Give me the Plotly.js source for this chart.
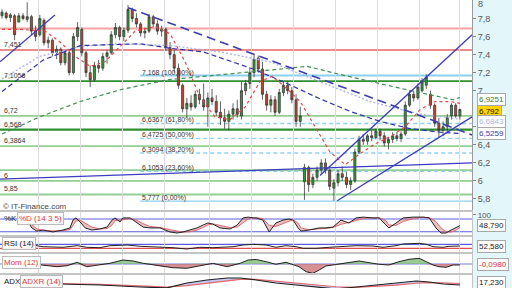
<!DOCTYPE html>
<html><head><meta charset="utf-8">
<script src="https://cdn.plot.ly/plotly-3.0.1.min.js"></script>
<style>html,body{margin:0;padding:0;background:#fff}#chart{width:512px;height:288px}</style>
</head><body><div id="chart"></div>
<script>
// ---- price candles (one per session) ----
const open  = [7.83,7.86,7.81,7.83,7.76,7.83,7.79,7.82,7.66,7.62,7.78,7.53,7.56,7.42,7.46,7.31,7.42,7.20,7.60,7.68,7.42,7.20,7.12,7.28,7.25,7.38,7.42,7.62,7.70,7.60,7.67,7.90,7.80,7.74,7.64,7.66,7.82,7.74,7.66,7.68,7.48,7.40,7.25,7.06,6.80,6.86,6.82,6.96,6.90,6.82,6.92,6.88,6.76,6.70,6.66,6.74,6.80,6.72,7.00,7.08,7.20,7.36,7.24,6.96,6.84,6.90,6.76,6.98,7.06,7.00,6.90,6.66,5.99,6.15,5.96,6.04,6.12,6.20,6.12,5.92,5.98,6.08,6.04,5.96,6.00,6.32,6.46,6.44,6.50,6.48,6.55,6.50,6.42,6.46,6.50,6.47,6.52,6.84,6.96,6.92,7.00,7.06,6.96,6.84,6.64,6.56,6.60,6.72,6.84,6.72];
const high  = [7.90,7.88,7.86,7.85,7.86,7.86,7.98,7.84,7.72,7.84,7.80,7.60,7.58,7.50,7.48,7.45,7.44,7.64,7.76,7.70,7.44,7.28,7.32,7.34,7.42,7.45,7.66,7.75,7.72,7.70,7.95,7.92,7.86,7.76,7.70,7.85,7.84,7.78,7.72,7.70,7.54,7.45,7.30,7.08,6.92,6.95,7.00,7.02,7.08,6.98,7.02,6.95,6.88,6.80,6.78,6.86,6.90,7.10,7.12,7.25,7.40,7.39,7.32,7.00,6.95,6.94,7.02,7.10,7.10,7.04,6.96,6.82,6.19,6.17,6.08,6.16,6.24,6.25,6.14,6.02,6.12,6.16,6.10,6.04,6.36,6.50,6.52,6.52,6.56,6.58,6.58,6.54,6.48,6.54,6.54,6.55,6.88,7.00,7.00,7.08,7.14,7.18,7.00,6.86,6.70,6.66,6.74,6.86,6.86,6.80];
const low   = [7.80,7.79,7.76,7.56,7.76,7.78,7.76,7.62,7.55,7.60,7.50,7.47,7.38,7.35,7.28,7.28,7.17,7.18,7.55,7.38,7.15,7.04,7.10,7.20,7.22,7.30,7.40,7.58,7.56,7.55,7.64,7.76,7.70,7.60,7.58,7.64,7.70,7.62,7.60,7.44,7.35,7.20,7.02,6.76,6.70,6.78,6.80,6.85,6.78,6.60,6.84,6.72,6.62,6.58,6.56,6.68,6.70,6.68,6.95,7.02,7.15,7.20,6.90,6.78,6.76,6.72,6.74,6.94,6.96,6.86,6.60,6.60,5.79,5.88,5.92,6.00,6.08,6.08,5.90,5.78,5.94,6.00,5.92,5.90,5.98,6.30,6.40,6.40,6.44,6.46,6.45,6.38,6.35,6.42,6.44,6.43,6.50,6.82,6.88,6.90,6.98,7.02,6.80,6.60,6.48,6.50,6.54,6.68,6.70,6.68];
const close = [7.87,7.81,7.84,7.62,7.83,7.80,7.82,7.66,7.60,7.80,7.53,7.56,7.42,7.46,7.31,7.42,7.20,7.60,7.70,7.42,7.20,7.12,7.28,7.25,7.38,7.42,7.62,7.70,7.60,7.67,7.90,7.80,7.74,7.64,7.66,7.82,7.74,7.66,7.68,7.48,7.40,7.25,7.06,6.80,6.86,6.82,6.96,6.90,6.82,6.92,6.88,6.76,6.70,6.66,6.74,6.80,6.74,7.00,7.08,7.20,7.35,7.24,6.96,6.84,6.90,6.76,6.98,7.06,7.00,6.90,6.66,6.72,6.15,5.96,6.04,6.12,6.20,6.12,5.94,5.98,6.08,6.04,5.96,6.00,6.32,6.46,6.44,6.50,6.48,6.55,6.50,6.42,6.46,6.50,6.47,6.52,6.84,6.96,6.92,7.04,7.10,7.15,6.84,6.64,6.56,6.60,6.70,6.84,6.72,6.792];

// ---- moving averages (session index, price) ----
const maRedX   = [0,4.3,10.2,13.8,17.4,21,24.5,28.1,31.7,36.4,40,43.6,47.1,50.7,54.3,57.9,61.4,64.3,67.4,71,74.5,78.1,81.7,85.2,88.8,92.4,96,99.5,103.1,106.7,109];
const maRedY   = [7.68,7.68,7.66,7.54,7.38,7.27,7.32,7.49,7.66,7.71,7.63,7.32,6.93,6.71,6.68,6.82,7.10,7.16,7.04,6.88,6.60,6.32,6.18,6.30,6.41,6.49,6.60,6.79,6.88,6.88,6.86];
const maNavyX  = [0,9.8,18.6,25.7,32.9,40,47.9,59.8,66.9,75.7,82.9,90,97.1,104.3,109];
const maNavyY  = [6.99,7.34,7.50,7.51,7.52,7.47,7.43,7.24,7.10,6.91,6.77,6.66,6.58,6.54,6.5259];
const maLightX = [0,9,18.6,28,40,51.9,63.8,75.7,87.6,99.5,109];
const maLightY = [7.13,7.38,7.49,7.52,7.50,7.43,7.32,7.10,6.88,6.74,6.6843];
const maGreenX = [0,9,18.6,28.1,39.3,56,66.2,72.6,80.5,96.4,107.4,109];
const maGreenY = [6.52,6.71,6.88,7.01,7.12,7.19,7.24,7.27,7.18,7.01,6.90,6.9251];

// ---- drawn trend lines: [startIndex, startPrice, endIndex, endPrice] ----
const trendSolid  = [[-0.48,7.32,12.6,7.84],[75.7,6.06,111.9,7.62],[79.8,5.78,111.9,6.71],[-0.48,6.02,111.9,6.20]];
const trendDashed = [[30,7.92,111.9,6.51]];

// ---- horizontal levels ----
const redLevels   = [7.69,7.451];
const redLabels   = ["","7,451"];
const greenLevels = [7.1056,6.72,6.568,6.3864,6.12,6.0,5.85];
const greenLabels = ["7,1056","6,72","6,568","6,3864","","6","5,85"];
const fibLevels   = [7.168,6.6367,6.4725,6.3094,6.1053,5.777];
const fibLabels   = ["7,168 (100,00%)","6,6367 (61,80%)","6,4725 (50,00%)","6,3094 (38,20%)","6,1053 (23,60%)","5,777 (0,00%)"];
const fibStart = 32.9;

// ---- price axis tick labels ----
const priceTicks = [5.8,6.0,6.2,6.4,6.6,7.0,7.2,7.4,7.6,7.8];
const priceTop = 8;

// ---- indicators ----
const stochX = [6.2,7.1,8.3,9.8,12.1,14.5,16.2,16.9,17.6,18.6,19.8,21.4,23.3,25,26.2,26.9,28.1,28.8,30.5,32.1,33.6,35.2,37.6,40,41.7,43.1,44.8,46.4,47.9,49,50.2,51.9,54.3,56,57.4,58.6,59.8,60.5,62.1,63.6,65.2,66.9,68.3,69.3,70.5,71.2,73.1,75.5,77.1,78.8,80.7,82.6,84.3,86,88.3,89.8,91.4,92.1,93.8,95.5,97.9,100.2,101.7,103.3,104.5,105.7,106.9,108.1,109];
const stochK = [66,38,23,28,19,28,38,75,85,66,38,28,33,42,75,85,66,85,85,61,42,38,38,19,14,19,28,38,52,61,56,38,33,52,85,89,85,85,75,19,61,75,80,75,38,23,28,38,38,42,75,61,85,89,85,85,52,38,61,85,89,89,85,38,14,14,28,42,48.79];
const stochD = [72,52,34,27,24,25,30,50,70,74,60,42,33,35,52,72,75,78,82,74,58,45,40,30,22,18,20,28,40,52,57,50,40,42,62,80,86,86,82,50,45,58,72,77,60,38,30,32,36,40,55,64,74,82,86,86,72,52,50,68,82,88,87,68,38,20,18,28,40];
const rsiX = [7.1,9.8,14.5,17.9,20.2,23.3,25.7,29.8,32.9,36.9,40.7,44,47.1,50.2,55,57.4,59.8,62.9,65.2,67.6,70,71.7,74.8,77.9,81.2,84.3,88.3,90.7,93.8,95.5,99.3,101,102.6,105,106.4,108.1,109];
const rsiV = [63,46,40,56,40,36,56,63,50,46,36,23,40,36,46,63,70,63,40,56,46,30,30,40,46,56,53,40,56,73,80,70,46,40,50,53,52.58];
const momX = [7.9,10.7,13.1,15.5,17.9,20.2,22.6,25.7,28.8,31.2,33.6,36,38.3,40.7,44,47.1,50.2,53.6,56.7,58.6,60.5,62.9,65.2,67.6,69.3,70.7,72.4,74,75.5,77.1,79.5,82.6,85,87.4,89.8,92.1,94.5,96.9,99.3,101,102.6,104,105.7,107.4,109];
const momV = [-0.03,-0.2,-0.27,-0.17,0.17,-0.27,-0.1,0.07,0.4,0.3,0.07,-0.1,-0.27,-0.37,-0.43,-0.17,0.07,-0.27,0.07,0.4,0.45,0.23,-0.03,0.17,-0.03,-0.27,-0.77,-0.93,-0.6,-0.2,-0.05,0.17,0.3,0.13,-0.03,-0.1,0.23,0.47,0.57,0.23,-0.1,-0.27,-0.33,-0.1,-0.098];
const adxX  = [13.8,23.3,32.9,39.3,44,48.8,53.6,56.7,60.5,65.2,70,74.8,79.5,84.3,89,93.8,98.6,101.7,105,109];
const adxV  = [19.1,17.2,13.5,11.9,20.9,26.5,30.2,30.2,26.5,20.9,17.2,13.5,10,13.5,17.2,20.9,24.6,22.8,19.1,17.23];
const adxrV = [20,18.5,15.5,13.5,16,20,25,27.5,27.5,24.5,21,17.5,14,13,14.5,17,20.5,21.5,21,20];

const gridDays = [8.6,18.6,28.6,38.6,49.5,59.5,69.3,79.3,89.3,99.3,108.8];

// ---------------------------------------------------------------
const day = close.map((_, i) => i);
const fmt = (v, d) => v.toFixed(d).replace('.', ',');
const XMIN = -0.476, XMAX = 111.9, XDOM = 0.922;

const traces = [];
const line = (x, y, color, dash, width, yaxis) => ({type:'scatter', mode:'lines', x, y, yaxis: yaxis||'y',
  line:{color, dash, width}, hoverinfo:'skip'});

traces.push(line(maGreenX, maGreenY, '#3f8f4f', '4px,3px', 1.2));
traces.push(line(maLightX, maLightY, '#a9b4ee', '2px,2px', 1.4));
traces.push(line(maNavyX, maNavyY, '#3434a8', '5px,3px', 1.2));
traces.push(line(maRedX, maRedY, '#e04848', '3px,3px', 1.2));

traces.push({type:'candlestick', x:day, open, high, low, close, xaxis:'x', yaxis:'y',
  increasing:{line:{color:'#3a3a3a', width:0.8}, fillcolor:'#2f9e2f'},
  decreasing:{line:{color:'#3a3a3a', width:0.8}, fillcolor:'#c0452e'},
  whiskerwidth:0, hoverinfo:'skip'});

trendSolid.forEach(t => traces.push(line([t[0], t[2]], [t[1], t[3]], '#3c3cc0', 'solid', 1.3)));
trendDashed.forEach(t => traces.push(line([t[0], t[2]], [t[1], t[3]], '#3c3cb0', '9px,5px', 1.6)));

// stochastic
traces.push(line(stochX, stochD, '#e06a6a', 'solid', 1, 'y2'));
traces.push(Object.assign(line(stochX, stochK, '#222', 'solid', 1, 'y2'), {fill:'tonexty', fillcolor:'rgba(215,110,120,0.45)'}));
// rsi
traces.push(line(rsiX, rsiV, '#222', 'solid', 1, 'y3'));
// momentum
const momPos = momV.map(v => Math.max(v, 0));
const momNeg = momV.map(v => Math.min(v, 0));
traces.push(Object.assign(line(momX, momPos, 'rgba(0,0,0,0)', 'solid', 0, 'y4'), {fill:'tozeroy', fillcolor:'rgba(120,185,110,0.75)'}));
traces.push(Object.assign(line(momX, momNeg, 'rgba(0,0,0,0)', 'solid', 0, 'y4'), {fill:'tozeroy', fillcolor:'rgba(200,110,110,0.75)'}));
traces.push(line(momX, momV, '#222', 'solid', 1, 'y4'));
// adx
traces.push(line(adxX, adxrV, '#e06a6a', 'solid', 1.2, 'y5'));
traces.push(Object.assign(line(adxX, adxV, '#222', 'solid', 1.2, 'y5'), {fill:'tonexty', fillcolor:'rgba(130,130,220,0.45)'}));

// ---- shapes ----
const shapes = [];
shapes.push({type:'rect', xref:'paper', yref:'paper', x0:XDOM, x1:1, y0:0, y1:1, fillcolor:'#e3f6fa', line:{width:0}, layer:'below'});
redLevels.forEach((v, k) => shapes.push({type:'line', xref:'paper', x0:0, x1:XDOM, yref:'y', y0:v, y1:v,
  line:{color: k === 0 ? '#f3a3a3' : '#e46464', width: k === 0 ? 2 : 1.6}, layer:'below'}));
greenLevels.forEach(v => shapes.push({type:'line', xref:'paper', x0:0, x1:XDOM, yref:'y', y0:v, y1:v,
  line:{color: (v === 6.568 || v === 7.1056) ? '#2f8f2f' : '#93cf93', width: v === 6.568 ? 2.2 : 1.8}, layer:'below'}));
fibLevels.forEach((v, k) => shapes.push({type:'line', xref:'x', x0:fibStart, x1:XMAX, yref:'y', y0:v, y1:v,
  line:{color: (k === 0 || k === fibLevels.length-1) ? '#8ccfee' : '#8fd0f5', width: (k === 0) ? 2 : 1.3,
  dash: (k === 0 || k === fibLevels.length-1) ? 'solid' : '4px,3px'}, layer:'below'}));
// indicator reference lines
[[80,'y2','#5c5ce0'],[20,'y2','#5c5ce0'],[70,'y3','#5c5ce0'],[30,'y3','#e05050'],[0,'y4','#7c7ce8']].forEach(r =>
  shapes.push({type:'line', xref:'paper', x0:0, x1:XDOM, yref:r[1], y0:r[0], y1:r[0], line:{color:r[2], width:1.2}, layer:'below'}));

// ---- annotations ----
const ann = [];
const tiny = {size:7, color:'#333'};
redLabels.forEach((t, k) => { if (t) ann.push({xref:'paper', x:0.004, xanchor:'left', yref:'y', y:redLevels[k], yanchor:'bottom', text:t, showarrow:false, font:tiny}); });
greenLabels.forEach((t, k) => { if (t) ann.push({xref:'paper', x:0.004, xanchor:'left', yref:'y', y:greenLevels[k], yanchor:'bottom', text:t, showarrow:false, font:tiny}); });
fibLabels.forEach((t, k) => ann.push({xref:'x', x:fibStart, xanchor:'left', yref:'y', y:fibLevels[k], yanchor:'middle', yshift:3, text:t, showarrow:false, font:tiny}));
ann.push({xref:'paper', x:0.002, xanchor:'left', yref:'paper', y:1-206/288, yanchor:'middle', text:'© IT-Finance.com', showarrow:false, font:{size:8, color:'#444'}});
// top price tick label (sits on the upper edge)
ann.push({xref:'paper', x:XDOM + 0.008, xanchor:'left', yref:'y', y:priceTop, yanchor:'top', yshift:3, text:String(priceTop), showarrow:false, font:{size:9, color:'#555'}});

const box = (y, yref, text, color, bg, shift) => ({xref:'paper', x:0.932, xanchor:'left', yref, y, yanchor:'middle', yshift:shift||0, text, showarrow:false,
  font:{size:8, color}, bgcolor:bg||'#fff', bordercolor:'#a8a8a8', borderwidth:1, borderpad:1});
ann.push(box(maGreenY[maGreenY.length-1], 'y', fmt(maGreenY[maGreenY.length-1], 4), '#2e7d32', '#fff', -2));
ann.push(box(close[close.length-1], 'y', fmt(close[close.length-1], 3), '#111', '#ffd200', -2));
ann.push(box(maLightY[maLightY.length-1], 'y', fmt(maLightY[maLightY.length-1], 4), '#aeb6e6', '#fff', -2));
ann.push(box(maNavyY[maNavyY.length-1], 'y', fmt(maNavyY[maNavyY.length-1], 4), '#3838a8'));
ann.push(box(stochK[stochK.length-1], 'y2', fmt(stochK[stochK.length-1], 3), '#222'));
ann.push(box(rsiV[rsiV.length-1], 'y3', fmt(rsiV[rsiV.length-1], 3), '#222'));
ann.push(box(momV[momV.length-1], 'y4', fmt(momV[momV.length-1], 4), '#e03030'));
ann.push(box(adxV[adxV.length-1], 'y5', fmt(adxV[adxV.length-1], 3), '#222', '#fff', 3));

const tag = (x, yp, text, color, boxed) => ({xref:'paper', x, xanchor:'left', yref:'paper', y:yp, yanchor:'middle', text, showarrow:false,
  font:{size:8, color}, bgcolor: boxed ? 'rgba(255,255,255,0.9)' : 'rgba(0,0,0,0)', bordercolor: boxed ? '#bbb' : 'rgba(0,0,0,0)', borderwidth:1, borderpad:1});
ann.push(tag(0.004, 1-218/288, '%K', '#222', false));
ann.push(tag(0.034, 1-218/288, '%D (14 3 5)', '#e03a3a', true));
ann.push(tag(0.004, 1-243/288, 'RSI (14)', '#222', true));
ann.push(tag(0.004, 1-262/288, 'Mom (12)', '#e03a3a', true));
ann.push(tag(0.004, 1-281/288, 'ADX', '#222', false));
ann.push(tag(0.040, 1-281/288, 'ADXR (14)', '#e03a3a', true));

const subY = (domain, range, extra) => Object.assign({domain, range, side:'right', anchor:'x', showgrid:false, zeroline:false,
  showline:true, mirror:true, linecolor:'#c4c4c4', showticklabels:false, ticks:'', fixedrange:true}, extra||{});

const layout = {
  width:512, height:288, margin:{l:0, r:0, t:0, b:0},
  paper_bgcolor:'#fff', plot_bgcolor:'#fff', showlegend:false, separators:',.',
  font:{family:'Liberation Sans, Arial, sans-serif', size:9, color:'#444'},
  xaxis:{domain:[0, XDOM], range:[XMIN, XMAX], tickvals:gridDays, showticklabels:false, ticks:'',
    showgrid:true, gridcolor:'#dcdcdc', gridwidth:1, zeroline:false, showline:true, mirror:'all', linecolor:'#c4c4c4',
    rangeslider:{visible:false}, fixedrange:true},
  yaxis:{domain:[1-210/288, 1], range:[5.678, 8.005], side:'right', tickvals:priceTicks, showgrid:false, zeroline:false,
    ticks:'outside', ticklen:3, tickcolor:'#888', showline:true, mirror:true, linecolor:'#9a9a9a',
    tickfont:{size:9, color:'#555'}, fixedrange:true},
  yaxis2: subY([1-235/288, 1-212/288], [4.7, 113], {showticklabels:true, tickvals:[100], ticks:'outside', ticklen:3, tickcolor:'#888', tickfont:{size:8, color:'#555'}}),
  yaxis3: subY([1-252/288, 1-237/288], [-7, 143]),
  yaxis4: subY([1-273/288, 1-254/288], [-0.9, 1.0]),
  yaxis5: subY([0, 1-275/288], [11.7, 35.7]),
  shapes, annotations: ann
};

Plotly.newPlot('chart', traces, layout, {staticPlot:true, displayModeBar:false});
</script></body></html>
